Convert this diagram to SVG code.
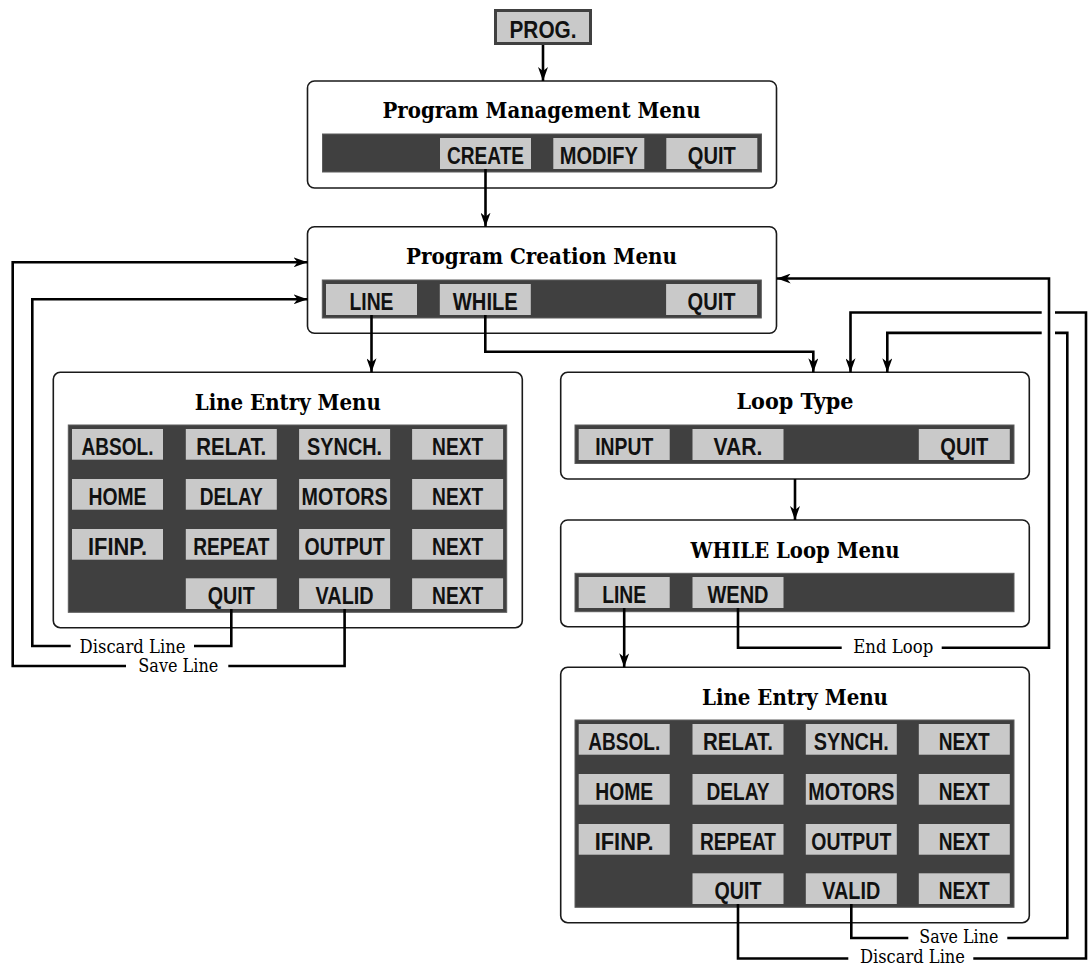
<svg xmlns="http://www.w3.org/2000/svg" width="1090" height="967" viewBox="0 0 1090 967">
<style>
.box{fill:#fff;stroke:#1a1a1a;stroke-width:1.6}
.bar{fill:#404040;stroke:#5c5c5c;stroke-width:1}
.btn{fill:#c9c9c9}
.bt{font-family:"Liberation Sans",Arial,sans-serif;font-weight:bold;font-size:23.5px;fill:#111;text-anchor:middle}
.title{font-family:"DejaVu Serif","Liberation Serif",serif;font-weight:bold;font-size:21.5px;fill:#000;text-anchor:middle}
.lbl{font-family:"DejaVu Serif","Liberation Serif",serif;font-size:18px;fill:#000;text-anchor:middle}
.ln{fill:none;stroke:#000;stroke-width:2.6}
.arr{marker-end:url(#ah)}
</style>
<defs>
<marker id="ah" viewBox="0 0 14 10" refX="14" refY="5" markerWidth="14" markerHeight="10" orient="auto" markerUnits="userSpaceOnUse">
<path d="M0,0 L14,5 L0,10 L4,5 z" fill="#000"/>
</marker>
</defs>
<rect width="1090" height="967" fill="#fff"/>

<g id="prog">
<rect x="495.5" y="10.5" width="95" height="33" fill="#c9c9c9" stroke="#404040" stroke-width="3"/>
<text class="bt" x="543" y="37.5" textLength="67" lengthAdjust="spacingAndGlyphs">PROG.</text>
</g>

<g id="program-management-menu">
<rect class="box" x="307.5" y="81" width="469" height="107" rx="7"/>
<text class="title" x="541.5" y="118" textLength="318" lengthAdjust="spacingAndGlyphs">Program Management Menu</text>
<rect class="bar" x="322.5" y="134" width="439" height="38"/>
<rect class="btn" x="440" y="138" width="91" height="31"/>
<rect class="btn" x="553.3" y="138" width="91" height="31"/>
<rect class="btn" x="666.3" y="138" width="91" height="31"/>
<text class="bt" x="485.5" y="163.5" textLength="77" lengthAdjust="spacingAndGlyphs">CREATE</text>
<text class="bt" x="598.8" y="163.5" textLength="78" lengthAdjust="spacingAndGlyphs">MODIFY</text>
<text class="bt" x="711.8" y="163.5" textLength="48" lengthAdjust="spacingAndGlyphs">QUIT</text>
</g>

<g id="program-creation-menu">
<rect class="box" x="307.5" y="226.7" width="469" height="106.6" rx="7"/>
<text class="title" x="541.5" y="264" textLength="271" lengthAdjust="spacingAndGlyphs">Program Creation Menu</text>
<rect class="bar" x="322.3" y="280" width="439" height="38"/>
<rect class="btn" x="326" y="284" width="91" height="31"/>
<rect class="btn" x="439.8" y="284" width="91" height="31"/>
<rect class="btn" x="666.1" y="284" width="91" height="31"/>
<text class="bt" x="371.5" y="309.5" textLength="44" lengthAdjust="spacingAndGlyphs">LINE</text>
<text class="bt" x="485.3" y="309.5" textLength="65" lengthAdjust="spacingAndGlyphs">WHILE</text>
<text class="bt" x="711.6" y="309.5" textLength="48" lengthAdjust="spacingAndGlyphs">QUIT</text>
</g>

<g id="line-entry-menu-left">
<rect class="box" x="53.3" y="372.3" width="469" height="255.4" rx="7"/>
<text class="title" x="287.8" y="410" textLength="186" lengthAdjust="spacingAndGlyphs">Line Entry Menu</text>
<rect class="bar" x="68.3" y="425" width="438.4" height="187.3"/>
<rect class="btn" x="72" y="429" width="91" height="30.7"/>
<rect class="btn" x="185.8" y="429" width="91" height="30.7"/>
<rect class="btn" x="299.1" y="429" width="91" height="30.7"/>
<rect class="btn" x="412.1" y="429" width="91" height="30.7"/>
<rect class="btn" x="72" y="479" width="91" height="30.7"/>
<rect class="btn" x="185.8" y="479" width="91" height="30.7"/>
<rect class="btn" x="299.1" y="479" width="91" height="30.7"/>
<rect class="btn" x="412.1" y="479" width="91" height="30.7"/>
<rect class="btn" x="72" y="529" width="91" height="30.7"/>
<rect class="btn" x="185.8" y="529" width="91" height="30.7"/>
<rect class="btn" x="299.1" y="529" width="91" height="30.7"/>
<rect class="btn" x="412.1" y="529" width="91" height="30.7"/>
<rect class="btn" x="185.8" y="578.3" width="91" height="30.7"/>
<rect class="btn" x="299.1" y="578.3" width="91" height="30.7"/>
<rect class="btn" x="412.1" y="578.3" width="91" height="30.7"/>
<text class="bt" x="117.5" y="454.8" textLength="72" lengthAdjust="spacingAndGlyphs">ABSOL.</text>
<text class="bt" x="231.3" y="454.8" textLength="70" lengthAdjust="spacingAndGlyphs">RELAT.</text>
<text class="bt" x="344.6" y="454.8" textLength="75" lengthAdjust="spacingAndGlyphs">SYNCH.</text>
<text class="bt" x="457.6" y="454.8" textLength="51" lengthAdjust="spacingAndGlyphs">NEXT</text>
<text class="bt" x="117.5" y="504.8" textLength="58" lengthAdjust="spacingAndGlyphs">HOME</text>
<text class="bt" x="231.3" y="504.8" textLength="63" lengthAdjust="spacingAndGlyphs">DELAY</text>
<text class="bt" x="344.6" y="504.8" textLength="86" lengthAdjust="spacingAndGlyphs">MOTORS</text>
<text class="bt" x="457.6" y="504.8" textLength="51" lengthAdjust="spacingAndGlyphs">NEXT</text>
<text class="bt" x="117.5" y="554.8" textLength="59" lengthAdjust="spacingAndGlyphs">IFINP.</text>
<text class="bt" x="231.3" y="554.8" textLength="76" lengthAdjust="spacingAndGlyphs">REPEAT</text>
<text class="bt" x="344.6" y="554.8" textLength="80" lengthAdjust="spacingAndGlyphs">OUTPUT</text>
<text class="bt" x="457.6" y="554.8" textLength="51" lengthAdjust="spacingAndGlyphs">NEXT</text>
<text class="bt" x="231.3" y="604.1" textLength="47" lengthAdjust="spacingAndGlyphs">QUIT</text>
<text class="bt" x="344.6" y="604.1" textLength="58" lengthAdjust="spacingAndGlyphs">VALID</text>
<text class="bt" x="457.6" y="604.1" textLength="51" lengthAdjust="spacingAndGlyphs">NEXT</text>
</g>

<g id="loop-type">
<rect class="box" x="560.7" y="372.3" width="468.6" height="106.7" rx="7"/>
<text class="title" x="795" y="409" textLength="117" lengthAdjust="spacingAndGlyphs">Loop Type</text>
<rect class="bar" x="575" y="425" width="439" height="38.5"/>
<rect class="btn" x="578.7" y="429" width="91" height="31"/>
<rect class="btn" x="692.5" y="429" width="91" height="31"/>
<rect class="btn" x="918.8" y="429" width="91" height="31"/>
<text class="bt" x="624.2" y="454.5" textLength="58" lengthAdjust="spacingAndGlyphs">INPUT</text>
<text class="bt" x="738" y="454.5" textLength="49" lengthAdjust="spacingAndGlyphs">VAR.</text>
<text class="bt" x="964.3" y="454.5" textLength="48" lengthAdjust="spacingAndGlyphs">QUIT</text>
</g>

<g id="while-loop-menu">
<rect class="box" x="560.7" y="520" width="468.6" height="106.7" rx="7"/>
<text class="title" x="795" y="558" textLength="209" lengthAdjust="spacingAndGlyphs">WHILE Loop Menu</text>
<rect class="bar" x="575" y="573.3" width="439" height="38.4"/>
<rect class="btn" x="578.7" y="577" width="91" height="31"/>
<rect class="btn" x="692.5" y="577" width="91" height="31"/>
<text class="bt" x="624.2" y="602.5" textLength="44" lengthAdjust="spacingAndGlyphs">LINE</text>
<text class="bt" x="738" y="602.5" textLength="61" lengthAdjust="spacingAndGlyphs">WEND</text>
</g>

<g id="line-entry-menu-right">
<rect class="box" x="560.7" y="667.3" width="468.6" height="255.4" rx="7"/>
<text class="title" x="795" y="705" textLength="186" lengthAdjust="spacingAndGlyphs">Line Entry Menu</text>
<rect class="bar" x="575" y="720" width="439" height="187.3"/>
<rect class="btn" x="578.7" y="724" width="91" height="30.7"/>
<rect class="btn" x="692.5" y="724" width="91" height="30.7"/>
<rect class="btn" x="805.8" y="724" width="91" height="30.7"/>
<rect class="btn" x="918.8" y="724" width="91" height="30.7"/>
<rect class="btn" x="578.7" y="774" width="91" height="30.7"/>
<rect class="btn" x="692.5" y="774" width="91" height="30.7"/>
<rect class="btn" x="805.8" y="774" width="91" height="30.7"/>
<rect class="btn" x="918.8" y="774" width="91" height="30.7"/>
<rect class="btn" x="578.7" y="824" width="91" height="30.7"/>
<rect class="btn" x="692.5" y="824" width="91" height="30.7"/>
<rect class="btn" x="805.8" y="824" width="91" height="30.7"/>
<rect class="btn" x="918.8" y="824" width="91" height="30.7"/>
<rect class="btn" x="692.5" y="873.3" width="91" height="30.7"/>
<rect class="btn" x="805.8" y="873.3" width="91" height="30.7"/>
<rect class="btn" x="918.8" y="873.3" width="91" height="30.7"/>
<text class="bt" x="624.2" y="749.8" textLength="72" lengthAdjust="spacingAndGlyphs">ABSOL.</text>
<text class="bt" x="738" y="749.8" textLength="70" lengthAdjust="spacingAndGlyphs">RELAT.</text>
<text class="bt" x="851.3" y="749.8" textLength="75" lengthAdjust="spacingAndGlyphs">SYNCH.</text>
<text class="bt" x="964.3" y="749.8" textLength="51" lengthAdjust="spacingAndGlyphs">NEXT</text>
<text class="bt" x="624.2" y="799.8" textLength="58" lengthAdjust="spacingAndGlyphs">HOME</text>
<text class="bt" x="738" y="799.8" textLength="63" lengthAdjust="spacingAndGlyphs">DELAY</text>
<text class="bt" x="851.3" y="799.8" textLength="86" lengthAdjust="spacingAndGlyphs">MOTORS</text>
<text class="bt" x="964.3" y="799.8" textLength="51" lengthAdjust="spacingAndGlyphs">NEXT</text>
<text class="bt" x="624.2" y="849.8" textLength="59" lengthAdjust="spacingAndGlyphs">IFINP.</text>
<text class="bt" x="738" y="849.8" textLength="76" lengthAdjust="spacingAndGlyphs">REPEAT</text>
<text class="bt" x="851.3" y="849.8" textLength="80" lengthAdjust="spacingAndGlyphs">OUTPUT</text>
<text class="bt" x="964.3" y="849.8" textLength="51" lengthAdjust="spacingAndGlyphs">NEXT</text>
<text class="bt" x="738" y="899.1" textLength="47" lengthAdjust="spacingAndGlyphs">QUIT</text>
<text class="bt" x="851.3" y="899.1" textLength="58" lengthAdjust="spacingAndGlyphs">VALID</text>
<text class="bt" x="964.3" y="899.1" textLength="51" lengthAdjust="spacingAndGlyphs">NEXT</text>
</g>

<g id="connectors">
<path class="ln arr" d="M543,45 V81"/>
<path class="ln arr" d="M485.5,169 V226.7"/>
<path class="ln arr" d="M371.5,315 V372.3"/>
<path class="ln arr" d="M485.3,315 V351.7 H813.3 V372.3"/>
<path class="ln arr" d="M795,479 V520"/>
<path class="ln arr" d="M624.2,608 V667.3"/>
<path class="ln" d="M738,608 V647.7 H841.7"/>
<path class="ln arr" d="M941.7,647.7 H1049 V278.5 H776.7"/>
<text class="lbl" x="893.3" y="653" textLength="80" lengthAdjust="spacingAndGlyphs">End Loop</text>
<path class="ln" d="M851.3,904 V938 H908.3"/>
<path class="ln" d="M1007.3,938 H1067.3 V332.9 H1055"/>
<path class="ln arr" d="M1041.7,332.9 H887.3 V372.3"/>
<text class="lbl" x="958.8" y="943" font-size="16.5" textLength="79" lengthAdjust="spacingAndGlyphs">Save Line</text>
<path class="ln" d="M738,904 V958.5 H848.3"/>
<path class="ln" d="M973.3,958.5 H1086 V312.5 H1055"/>
<path class="ln arr" d="M1041.7,312.5 H850.5 V372.3"/>
<text class="lbl" x="912.5" y="963" font-size="16.5" textLength="105" lengthAdjust="spacingAndGlyphs">Discard Line</text>
<path class="ln" d="M231.3,609 V646 H194"/>
<path class="ln arr" d="M70.7,646 H32.3 V299.3 H307.5"/>
<text class="lbl" x="132.5" y="652.5" textLength="106" lengthAdjust="spacingAndGlyphs">Discard Line</text>
<path class="ln" d="M344.6,609 V666 H228.3"/>
<path class="ln arr" d="M126,666 H12.7 V262.3 H307.5"/>
<text class="lbl" x="178.3" y="672.3" textLength="80" lengthAdjust="spacingAndGlyphs">Save Line</text>
</g>
</svg>
